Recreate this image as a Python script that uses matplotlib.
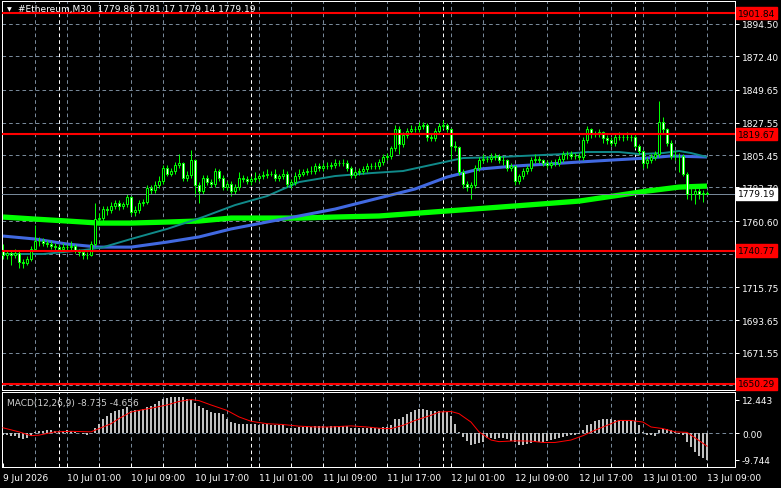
import matplotlib
matplotlib.use("Agg")
import matplotlib.pyplot as plt
import matplotlib.transforms as mtransforms
import numpy as np

# ---- data (30-minute candles, 9 Jul 17:00 .. 13 Jul 09:00) ----
first_open = 1741.0
closes = [
    1738, 1739, 1738, 1739, 1733, 1732, 1735, 1742, 1747, 1747,
    1746, 1745, 1744, 1743, 1742, 1743, 1743, 1744, 1741, 1740,
    1738, 1738, 1745, 1762, 1763, 1769, 1768, 1771, 1773, 1771,
    1772, 1777, 1767, 1768, 1773, 1774, 1783, 1782, 1785, 1788,
    1797, 1793, 1795, 1799, 1800, 1790, 1792, 1802, 1785, 1781,
    1790, 1787, 1786, 1795, 1790, 1784, 1786, 1781, 1784, 1790,
    1789, 1788, 1789, 1790, 1791, 1792, 1793, 1793, 1790, 1791,
    1793, 1786, 1787, 1791, 1793, 1794, 1795, 1795, 1798, 1797,
    1798, 1798, 1799, 1800, 1800, 1800, 1797, 1792, 1794, 1795,
    1796, 1798, 1798, 1798, 1801, 1804, 1805, 1810, 1823, 1813,
    1819, 1822, 1823, 1823, 1825, 1826, 1818, 1817, 1822, 1825,
    1826, 1823, 1812, 1811, 1794, 1786, 1784, 1785, 1797, 1802,
    1803, 1803, 1804, 1805, 1802, 1802, 1797, 1798, 1788, 1791,
    1795, 1797, 1802, 1803, 1802, 1800, 1799, 1800, 1800, 1803,
    1806, 1806, 1805, 1805, 1804, 1816, 1823, 1820, 1820, 1821,
    1817, 1816, 1814, 1818, 1818, 1818, 1818, 1818, 1812, 1808,
    1800, 1802, 1804, 1806, 1828, 1823, 1814, 1805, 1805, 1805,
    1793, 1779, 1779, 1781, 1779, 1779.86, 1779.19,
]
highs = [
    1745, 1741, 1741, 1742, 1741, 1735, 1737, 1744, 1758, 1750,
    1749, 1748, 1747, 1746, 1745, 1746, 1745, 1747, 1745, 1742,
    1741, 1740, 1747, 1773, 1766, 1771, 1771, 1774, 1775, 1775,
    1774, 1779, 1778, 1771, 1775, 1776, 1785, 1785, 1788, 1791,
    1799, 1799, 1797, 1801, 1806, 1801, 1795, 1809, 1803, 1787,
    1792, 1792, 1789, 1797, 1796, 1792, 1788, 1788, 1786, 1794,
    1792, 1791, 1791, 1794, 1793, 1795, 1796, 1795, 1796, 1793,
    1796, 1795, 1789, 1794, 1796, 1796, 1797, 1798, 1800, 1800,
    1800, 1801, 1801, 1803, 1802, 1803, 1802, 1798, 1796, 1797,
    1798, 1800, 1800, 1801, 1803, 1806, 1807, 1812, 1826, 1825,
    1821, 1824, 1826, 1825, 1828, 1828, 1827, 1820, 1824, 1827,
    1829, 1827, 1824, 1815, 1812, 1796, 1788, 1787, 1799, 1804,
    1806, 1805, 1807, 1807, 1806, 1805, 1803, 1800, 1799, 1793,
    1797, 1799, 1804, 1806, 1805, 1803, 1802, 1802, 1803, 1805,
    1808, 1808, 1808, 1807, 1807, 1818, 1825, 1824, 1822, 1823,
    1822, 1819, 1818, 1820, 1821, 1820, 1821, 1820, 1820, 1813,
    1809, 1804, 1806, 1808, 1842, 1831, 1824, 1816, 1808, 1807,
    1806, 1794, 1783, 1784, 1783, 1782, 1781.17,
]
lows = [
    1735, 1735, 1731, 1736, 1729, 1729, 1731, 1734, 1741, 1744,
    1744, 1743, 1742, 1741, 1740, 1740, 1741, 1741, 1739, 1737,
    1735, 1735, 1737, 1744, 1759, 1761, 1765, 1766, 1769, 1768,
    1769, 1770, 1765, 1764, 1766, 1771, 1772, 1779, 1780, 1783,
    1786, 1791, 1791, 1793, 1797, 1788, 1788, 1790, 1778, 1773,
    1779, 1785, 1784, 1784, 1788, 1782, 1782, 1778, 1779, 1782,
    1787, 1786, 1785, 1787, 1788, 1789, 1790, 1791, 1788, 1788,
    1789, 1784, 1783, 1785, 1789, 1791, 1792, 1793, 1793, 1795,
    1795, 1796, 1796, 1797, 1798, 1798, 1795, 1790, 1790, 1792,
    1793, 1794, 1796, 1796, 1796, 1799, 1802, 1803, 1808, 1806,
    1811, 1817, 1820, 1821, 1821, 1823, 1815, 1815, 1815, 1820,
    1823, 1821, 1803, 1808, 1792, 1783, 1781, 1776, 1783, 1795,
    1800, 1801, 1801, 1802, 1800, 1799, 1795, 1795, 1785, 1786,
    1789, 1793, 1795, 1800, 1800, 1798, 1797, 1797, 1798, 1798,
    1801, 1803, 1803, 1803, 1802, 1802, 1814, 1817, 1818, 1818,
    1814, 1813, 1812, 1812, 1816, 1815, 1816, 1815, 1810, 1806,
    1797, 1797, 1800, 1802, 1804, 1820, 1812, 1803, 1802, 1794,
    1791, 1776, 1775, 1772, 1776, 1774, 1779.14,
]

# moving averages, read at selected candles
ma_fast_idx = [0, 10, 20, 25, 32, 41, 50, 58, 66, 74, 83, 92, 100, 108, 115,
               124, 140, 146, 154, 159, 165, 169, 172, 176]
ma_fast_val = [1738.4, 1738.4, 1741.0, 1743.0, 1748.6, 1755.4, 1763.5, 1771.6,
               1777.7, 1787.2, 1791.3, 1793.3, 1794.7, 1799.4, 1803.5, 1804.2,
               1806.2, 1807.6, 1807.6, 1806.2, 1806.9, 1808.3, 1806.9, 1804.2]
ma_mid_idx = [0, 8, 16, 24, 32, 41, 49, 57, 66, 74, 83, 94, 103, 111, 119,
              128, 136, 144, 152, 161, 167, 176]
ma_mid_val = [1750.6, 1748.6, 1745.2, 1743.1, 1743.1, 1746.5, 1750.0, 1755.4,
              1760.1, 1764.2, 1768.9, 1776.4, 1782.5, 1790.6, 1796.0, 1798.1,
              1799.4, 1800.8, 1802.1, 1803.5, 1804.9, 1804.2]
ma_slow_idx = [0, 8, 16, 24, 32, 41, 49, 57, 66, 74, 83, 94, 111, 128, 144,
               161, 169, 176]
ma_slow_val = [1763.5, 1762.1, 1760.8, 1759.4, 1759.4, 1760.1, 1760.8, 1762.8,
               1762.8, 1762.8, 1763.5, 1764.2, 1767.6, 1771.0, 1774.3, 1781.1,
               1783.8, 1784.5]

# MACD histogram (one per candle) and signal line
macd_hist = [
    -0.4, -0.6, -0.8, -1.0, -1.6, -1.9, -1.6, -0.8, 0.4, 0.8,
    1.0, 1.2, 1.2, 1.0, 0.8, 1.0, 1.2, 0.9, 0.7, 0.3,
    -0.3, -0.5, 0.3, 2.0, 3.5, 5.3, 6.5, 7.6, 8.2, 8.5,
    8.9, 9.6, 8.4, 8.6, 8.8, 9.0, 9.6, 10.2, 10.9, 12.0,
    12.6, 13.0, 13.3, 13.6, 13.6, 13.3, 12.8, 12.2, 11.4, 10.1,
    9.2, 8.5, 7.9, 7.6, 7.5, 7.2, 5.5, 4.2, 3.7, 3.6,
    3.6, 3.6, 3.4, 3.5, 3.3, 3.4, 3.5, 3.2, 3.0, 3.2,
    3.0, 2.2, 2.0, 2.1, 2.4, 2.5, 2.6, 2.5, 2.7, 2.6,
    2.6, 2.5, 2.6, 2.7, 2.7, 2.8, 2.7, 2.2, 2.0, 2.0,
    2.1, 2.2, 2.3, 2.2, 2.2, 2.3, 2.5, 3.3, 5.2, 5.5,
    6.1, 7.3, 7.9, 8.5, 8.9, 9.1, 8.6, 8.2, 8.2, 8.1,
    7.9, 7.8, 6.3, 3.5, 0.6, -1.2, -2.6, -4.2, -4.0, -3.6,
    -3.0, -1.8, -1.6, -2.0, -1.8, -1.8, -2.2, -2.8, -3.3, -4.2,
    -4.2, -3.9, -3.4, -3.0, -3.0, -3.0, -2.8, -2.4, -2.1, -1.6,
    -1.2, -0.9, -0.6, -0.4, -0.3, 1.2, 3.0, 3.6, 4.5, 4.8,
    5.2, 5.2, 5.2, 4.8, 4.8, 4.8, 4.8, 4.5, 4.5, 3.0,
    0.6, -0.4, -0.6, -1.0, 1.2, 1.8, 1.8, 1.2, 0.6, -0.2,
    -0.6, -3.0, -4.8, -6.9, -8.1, -8.9, -9.744,
]
signal_idx = [0, 4, 7, 9, 13, 17, 22, 24, 27, 29, 32, 34, 37, 41, 44, 47, 49,
              52, 56, 59, 62, 66, 70, 74, 78, 82, 87, 91, 95, 97, 100, 103,
              107, 109, 112, 114, 117, 119, 122, 124, 128, 132, 135, 138, 142,
              145, 148, 152, 154, 157, 160, 162, 165, 168, 171, 174, 176]
signal_val = [2.1, 0.6, -0.8, -0.6, 0.6, 0.8, 0.6, 1.8, 3.6, 5.5, 7.9, 8.5,
              9.3, 10.5, 11.8, 12.5, 12.1, 10.5, 8.5, 6.1, 4.5, 3.6, 3.3, 2.7,
              2.4, 2.4, 2.8, 2.4, 1.8, 1.8, 3.0, 4.8, 6.7, 7.9, 8.1, 7.3, 4.2,
              0.6, -2.4, -3.0, -2.7, -2.8, -3.3, -3.3, -2.4, -0.8, 1.2, 3.6,
              4.8, 4.8, 4.2, 2.4, 1.8, 0.6, 0.4, -2.6, -4.656]

price_ticks = [1894.50, 1872.40, 1849.65, 1827.55, 1805.45, 1783.70, 1760.60,
               1738.50, 1715.75, 1693.65, 1671.55]
extra_grid = [1649.45]
level_lines = [1901.84, 1819.67, 1740.77, 1650.29]
last_price = 1779.19
time_labels = ["9 Jul 2026", "10 Jul 01:00", "10 Jul 09:00", "10 Jul 17:00",
               "11 Jul 01:00", "11 Jul 09:00", "11 Jul 17:00", "12 Jul 01:00",
               "12 Jul 09:00", "12 Jul 17:00", "13 Jul 01:00", "13 Jul 09:00"]
day_starts = [14, 62, 110, 158]
title = "#Ethereum,M30  1779.86 1781.17 1779.14 1779.19"
macd_title = "MACD(12,26,9) -8.735 -4.656"

# ---- drawing ----
plt.rcParams["font.family"] = "DejaVu Sans"
plt.rcParams["lines.scale_dashes"] = False
FS = 6.5
PX = 0.72  # one pixel in points
GRID = "#778899"
DASH = (0, (2.6, 2.2))

W, H = 781, 489
fig = plt.figure(figsize=(W / 100, H / 100), dpi=100, facecolor="black")
ax = fig.add_axes([2 / W, 1 - 391 / H, 733 / W, 389 / H], facecolor="black")
axm = fig.add_axes([2 / W, 1 - 468 / H, 733 / W, 75 / H], facecolor="black")

n = len(closes)
idx = np.arange(n)
opens = np.array([first_open] + closes[:-1])
closes_a = np.array(closes)

for a in (ax, axm):
    a.set_xlim(-0.25, 183)
    for s in a.spines.values():
        s.set_color("white")
        s.set_linewidth(PX)
    # vertical grid every 4 hours and day separators
    for gx in range(8, n, 8):
        a.axvline(gx, color=GRID, lw=PX, ls=DASH, zorder=0)
    for d in day_starts:
        a.axvline(d, color="white", lw=PX, ls=DASH, zorder=0.5)

# price panel
ax.set_ylim(1646.2, 1910.0)
for p in price_ticks + extra_grid:
    ax.axhline(p, color=GRID, lw=PX, ls=DASH, zorder=0)

ax.plot(ma_slow_idx, ma_slow_val, color="#00ff00", lw=3.8, solid_capstyle="butt", zorder=2)
ax.plot(ma_mid_idx, ma_mid_val, color="#4169e1", lw=2.2, solid_capstyle="butt", zorder=2)
ax.plot(ma_fast_idx, ma_fast_val, color="#108a8a", lw=1.4, solid_capstyle="butt", zorder=2)

ax.vlines(idx, lows, highs, color="#00ff00", lw=PX, zorder=3)
bull = closes_a >= opens
body_lo = np.minimum(opens, closes_a)
body_h = np.abs(closes_a - opens)
ax.bar(idx, body_h, bottom=body_lo, width=0.5,
       color=np.where(bull, "black", "white"), edgecolor="#00ff00",
       linewidth=PX, zorder=4)

ax.axhline(last_price, color=GRID, lw=PX, zorder=3.5)
for lv in level_lines:
    ax.axhline(lv, color="red", lw=1.5, zorder=5)

ax.yaxis.tick_right()
ax.set_yticks(price_ticks)
ax.set_yticklabels([f"{p:.2f}" for p in price_ticks])
ax.tick_params(axis="y", colors="white", labelsize=FS, length=3, width=PX, pad=2)
ax.set_xticks([])

trans = mtransforms.blended_transform_factory(ax.transAxes, ax.transData)
for lv in level_lines:
    ax.text(1.004, lv, f"{lv:.2f}", transform=trans, va="center", ha="left",
            fontsize=FS, color="black", zorder=10, clip_on=False,
            bbox=dict(boxstyle="square,pad=0.18", fc="red", ec="red"))
ax.text(1.004, last_price, f"{last_price:.2f}", transform=trans, va="center",
        ha="left", fontsize=FS, color="black", zorder=10, clip_on=False,
        bbox=dict(boxstyle="square,pad=0.18", fc="white", ec="white"))

fig.text(7 / W, 1 - 9.5 / H, "\u25bc", color="white", fontsize=4.5, va="center")
fig.text(18 / W, 1 - 9.5 / H, title, color="white", fontsize=FS, va="center")

# MACD panel
axm.set_ylim(-12.33, 15.27)
axm.axhline(0, color=GRID, lw=PX, ls=DASH, zorder=0)
axm.bar(idx, macd_hist, width=0.72, color="#c0c0c0", zorder=2)
axm.plot(signal_idx, signal_val, color="red", lw=PX, zorder=3)
axm.text(5 / 733, (468 - 403.5) / 75, macd_title, transform=axm.transAxes,
         color="#d0d0d0", fontsize=FS, va="center", ha="left")

axm.yaxis.tick_right()
axm.set_yticks([12.443, 0.0, -9.744])
axm.set_yticklabels(["12.443", "0.00", "-9.744"])
axm.tick_params(axis="y", colors="white", labelsize=FS, length=3, width=PX, pad=2)

axm.set_xticks(range(0, n, 16))
axm.set_xticklabels(time_labels)
axm.set_xticks(range(8, n, 8), minor=True)
axm.tick_params(axis="x", which="both", colors="white", labelsize=FS,
                direction="in", length=3, width=PX, pad=4)
for lab in axm.get_xticklabels():
    lab.set_ha("left")

fig.savefig("out.png", dpi=100, facecolor="black")
